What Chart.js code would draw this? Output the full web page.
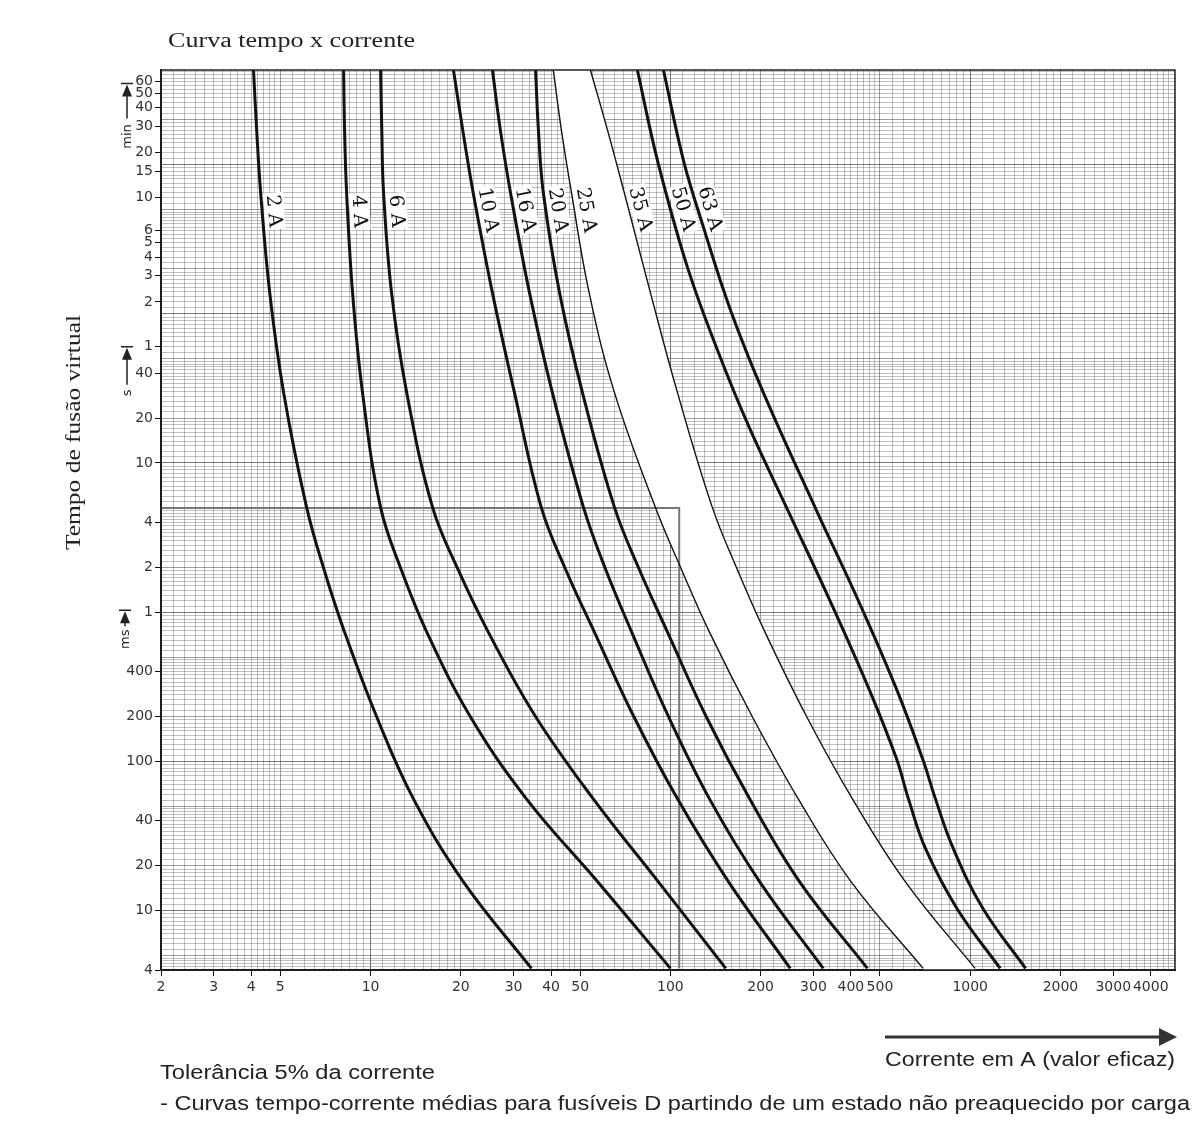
<!DOCTYPE html>
<html lang="pt-BR">
<head>
<meta charset="utf-8">
<title>Curva tempo x corrente</title>
<script src="https://cdn.jsdelivr.net/npm/chart.js@4.4.1/dist/chart.umd.min.js"></script>
<style>
  html, body { margin: 0; padding: 0; background: #fff; }
  #caixa { width: 1198px; height: 1122px; }
</style>
</head>
<body>
<div id="caixa"><canvas id="grafico"></canvas></div>
<script>
// curvas tempo-corrente: [corrente em A, tempo em s]
const curva2A  = [[4.07,4300],[4.17,1700],[4.3,645],[4.61,138],[5.13,29.6],[6.12,5.04],[6.99,1.94],[8.19,0.735],[10.47,0.2],[13.9,0.0561],[20.4,0.0156],[34.4,0.0041]];
const curva4A  = [[8.13,4300],[8.19,1700],[8.32,645],[8.71,138],[9.4,29.6],[10.8,5.04],[12.64,1.94],[15.4,0.735],[21.5,0.2],[33.1,0.0561],[57.2,0.0156],[100,0.0041]];
const curva6A  = [[10.8,4300],[10.9,1700],[11.05,645],[11.75,138],[13.2,29.6],[16.1,5.04],[19.56,1.94],[24.7,0.735],[35.5,0.2],[55.3,0.0561],[91.2,0.0156],[153,0.0041]];
const curva10A = [[18.9,4300],[20.3,1700],[22,645],[25.5,138],[30.2,29.6],[37.1,5.04],[44.7,1.94],[55.8,0.735],[75.5,0.2],[105.6,0.0561],[156.3,0.0156],[251,0.0041]];
const curva16A = [[25.5,4300],[27.1,1700],[29.3,645],[33.9,138],[40.4,29.6],[51.3,5.04],[60.8,1.94],[74.3,0.735],[98.5,0.2],[135,0.0561],[198.6,0.0156],[323.6,0.0041]];
const curva20A = [[35.5,4300],[36.3,1700],[37.7,645],[42.7,138],[50.9,29.6],[65.1,5.04],[78.7,1.94],[97.8,0.735],[131.6,0.2],[183.8,0.0561],[269.8,0.0156],[454,0.0041]];
const curva25A = [[40.7,4300],[43.3,1700],[46.8,645],[53.6,138],[65.1,29.6],[89.1,5.04],[108.8,1.94],[135,0.735],[187.5,0.2],[267,0.0561],[401,0.0156],[697,0.0041]];
const curva35A = [[54.1,4300],[61.7,1700],[70.2,645],[85.8,138],[105.6,29.6],[138,5.04],[167,1.94],[206.8,0.735],[284.6,0.2],[404.7,0.0561],[608,0.0156],[1038,0.0041]];
const curva50A = [[77.6,4300],[90.5,1072],[113.9,206],[143.4,57.4],[182.8,17.5],[248.3,4.67],[339,1.22],[459.8,0.305],[567.9,0.104],[622.3,0.0561],[709.6,0.026],[904.1,0.0103],[1259,0.0041]];
const curva63A = [[94.8,4300],[110.5,1072],[128.8,382],[158.5,106.4],[204.2,29.6],[309.1,4.67],[421.7,1.22],[567.9,0.305],[693.8,0.104],[765.7,0.0561],[878.4,0.026],[1104,0.0103],[1530,0.0041]];

const curvas = [curva2A, curva4A, curva6A, curva10A, curva16A, curva20A, curva25A, curva35A, curva50A, curva63A];
const nomesCurvas = ['2 A', '4 A', '6 A', '10 A', '16 A', '20 A', '25 A', '35 A', '50 A', '63 A'];
const curvasFinas = ['25 A', '35 A'];

// linha de exemplo (5 s / ~107 A)
const linhaExemplo = [[2,5],[107,5],[107,0.0041]];

// marcas dos eixos
const ticksCorrente = [2,3,4,5,10,20,30,40,50,100,200,300,400,500,1000,2000,3000,4000];
const ticksTempo = [3600,3000,2400,1800,1200,900,600,360,300,240,180,120,60,40,20,10,4,2,1,0.4,0.2,0.1,0.04,0.02,0.01,0.004];
const rotulosTempo = ['60','50','40','30','20','15','10','6','5','4','3','2','1','40','20','10','4','2','1','400','200','100','40','20','10','4'];

const tempoRotulo = 480; // altura em que os nomes das curvas são escritos

// papel log: subdivisões de cada década
const mantissas = [1,1.1,1.2,1.3,1.4,1.5,1.6,1.7,1.8,1.9,2,2.2,2.4,2.6,2.8,3,3.2,3.4,3.6,3.8,4,4.2,4.4,4.6,4.8,5,5.5,6,6.5,7,7.5,8,8.5,9,9.5];

function igual(a, b) { return Math.abs(a - b) / b < 1e-6; }

function valoresGrade(min, max, extras) {
  const vals = [];
  for (let e = -3; e <= 4; e++) {
    mantissas.forEach(m => {
      const v = +(m * Math.pow(10, e)).toPrecision(6);
      if (v >= min * 0.9999 && v <= max * 1.0001) vals.push(v);
    });
  }
  extras.forEach(v => { if (!vals.some(u => igual(u, v))) vals.push(v); });
  return vals.sort((a, b) => a - b);
}

function mantissa(v) {
  const e = Math.floor(Math.log10(v) + 1e-9);
  return +(v / Math.pow(10, e)).toFixed(3);
}

function corGrade(v) {
  const m = mantissa(v);
  if (m === 1) return 'rgba(40,40,40,0.62)';
  if (m === 2 || m === 5) return 'rgba(60,60,60,0.5)';
  return 'rgba(90,90,90,0.38)';
}

const X_MIN = 2, X_MAX = 4820, Y_MIN = 0.004, Y_MAX = 4300;
const gradeX = valoresGrade(X_MIN, X_MAX, ticksCorrente);
const gradeY = valoresGrade(Y_MIN, Y_MAX, ticksTempo);

function rotuloX(v) {
  const r = ticksCorrente.find(t => igual(v, t));
  return r === undefined ? '' : String(r);
}
function rotuloY(v) {
  const i = ticksTempo.findIndex(t => igual(v, t));
  return i < 0 ? '' : rotulosTempo[i];
}

// texto esticado na horizontal para ocupar a largura do original
function textoAjustado(ctx, texto, x, y, largura, fonte, angulo) {
  ctx.save();
  ctx.font = fonte;
  const w = ctx.measureText(texto).width;
  ctx.translate(x, y);
  if (angulo) ctx.rotate(angulo);
  ctx.scale(largura / w, 1);
  ctx.textAlign = 'left';
  ctx.textBaseline = 'alphabetic';
  ctx.fillText(texto, 0, 0);
  ctx.restore();
}

function marcador(ctx, x, yTopo, haste, texto, yTexto) {
  ctx.save();
  ctx.strokeStyle = '#222';
  ctx.fillStyle = '#222';
  ctx.lineWidth = 1.5;
  ctx.beginPath();
  ctx.moveTo(x - 6, yTopo); ctx.lineTo(x + 6, yTopo);
  ctx.moveTo(x, yTopo + 8); ctx.lineTo(x, yTopo + haste);
  ctx.stroke();
  ctx.beginPath();
  ctx.moveTo(x, yTopo + 1); ctx.lineTo(x - 5, yTopo + 13); ctx.lineTo(x + 5, yTopo + 13);
  ctx.closePath(); ctx.fill();
  ctx.translate(x + 4, yTexto);
  ctx.rotate(-Math.PI / 2);
  ctx.font = '13px "DejaVu Sans"';
  ctx.textAlign = 'center';
  ctx.textBaseline = 'alphabetic';
  ctx.fillText(texto, 0, 0);
  ctx.restore();
}

function caminhoBezier(ctx, pts, inverso) {
  if (!inverso) {
    for (let i = 1; i < pts.length; i++) {
      const a = pts[i - 1], b = pts[i];
      ctx.bezierCurveTo(a.cp2x, a.cp2y, b.cp1x, b.cp1y, b.x, b.y);
    }
  } else {
    for (let i = pts.length - 1; i > 0; i--) {
      const a = pts[i], b = pts[i - 1];
      ctx.bezierCurveTo(a.cp1x, a.cp1y, b.cp2x, b.cp2y, b.x, b.y);
    }
  }
}

const pluginPapel = {
  id: 'papel',
  beforeDatasetsDraw(chart) {
    // faixa branca entre 25 A e 35 A
    const { ctx, chartArea } = chart;
    const m25 = chart.getDatasetMeta(nomesCurvas.indexOf('25 A'));
    const m35 = chart.getDatasetMeta(nomesCurvas.indexOf('35 A'));
    m25.dataset.updateControlPoints(chartArea, 'x');
    m35.dataset.updateControlPoints(chartArea, 'x');
    const a = m25.data, b = m35.data;
    ctx.save();
    ctx.beginPath();
    ctx.rect(chartArea.left, chartArea.top, chartArea.right - chartArea.left, chartArea.bottom - chartArea.top);
    ctx.clip();
    ctx.beginPath();
    ctx.moveTo(a[0].x, a[0].y - 5);
    ctx.lineTo(a[0].x, a[0].y);
    caminhoBezier(ctx, a, false);
    ctx.lineTo(a[a.length - 1].x, a[a.length - 1].y + 5);
    ctx.lineTo(b[b.length - 1].x, b[b.length - 1].y + 5);
    ctx.lineTo(b[b.length - 1].x, b[b.length - 1].y);
    caminhoBezier(ctx, b, true);
    ctx.lineTo(b[0].x, b[0].y - 5);
    ctx.closePath();
    ctx.fillStyle = '#fff';
    ctx.fill();
    ctx.restore();
  },
  afterDatasetsDraw(chart) {
    // nomes das curvas, girados ao longo da curva
    const { ctx } = chart;
    const yAlvo = chart.scales.y.getPixelForValue(tempoRotulo);
    nomesCurvas.forEach((nome, i) => {
      const pts = chart.getDatasetMeta(i).data;
      for (let k = 0; k < pts.length - 1; k++) {
        const p0 = pts[k], p1 = pts[k + 1];
        if (p0.y <= yAlvo && p1.y >= yAlvo) {
          const f = (yAlvo - p0.y) / (p1.y - p0.y);
          const x = p0.x + f * (p1.x - p0.x);
          const ang = Math.atan2(p1.y - p0.y, p1.x - p0.x);
          const cx = x + 12 * Math.sin(ang);
          const cy = yAlvo - 12 * Math.cos(ang);
          ctx.save();
          ctx.translate(cx, cy);
          ctx.rotate(ang);
          ctx.font = '19.5px "DejaVu Serif"';
          const w = ctx.measureText(nome).width;
          ctx.fillStyle = '#fff';
          ctx.fillRect(-w / 2 - 2, -10, w + 4, 20);
          ctx.fillStyle = '#111';
          ctx.textAlign = 'center';
          ctx.textBaseline = 'middle';
          ctx.fillText(nome, 0, 1);
          ctx.restore();
          break;
        }
      }
    });
  },
  afterDraw(chart) {
    const { ctx, chartArea } = chart;
    const y = chart.scales.y;

    // moldura
    ctx.save();
    ctx.strokeStyle = '#222';
    ctx.lineWidth = 1.5;
    ctx.strokeRect(chartArea.left, chartArea.top, chartArea.right - chartArea.left, chartArea.bottom - chartArea.top);
    ctx.restore();

    ctx.save();
    ctx.fillStyle = '#222';
    textoAjustado(ctx, 'Curva tempo x corrente', 168, 47, 247, '20px "Liberation Serif"');
    textoAjustado(ctx, 'Tempo de fusão virtual', 80, 550, 235, '21px "Liberation Serif"', -Math.PI / 2);
    textoAjustado(ctx, 'Corrente em A (valor eficaz)', 885, 1066, 290, '20px "Liberation Sans"');
    textoAjustado(ctx, 'Tolerância 5% da corrente', 160, 1079, 275, '20px "Liberation Sans"');
    textoAjustado(ctx, '- Curvas tempo-corrente médias para fusíveis D partindo de um estado não preaquecido por carga', 160, 1110, 1030, '20px "Liberation Sans"');
    ctx.restore();

    // seta do eixo de corrente
    ctx.save();
    ctx.strokeStyle = '#333';
    ctx.fillStyle = '#333';
    ctx.lineWidth = 3;
    ctx.beginPath(); ctx.moveTo(885, 1037); ctx.lineTo(1162, 1037); ctx.stroke();
    ctx.beginPath(); ctx.moveTo(1177, 1037); ctx.lineTo(1159, 1028); ctx.lineTo(1159, 1046); ctx.closePath(); ctx.fill();
    ctx.restore();

    // unidades do eixo de tempo
    const yMin = y.getPixelForValue(3600), yS = y.getPixelForValue(60), yMs = y.getPixelForValue(1);
    marcador(ctx, 127, yMin + 2, 35, 'min', yMin + 55);
    marcador(ctx, 127, yS, 38, 's', yS + 46);
    marcador(ctx, 125, yMs - 2, 16, 'ms', yMs + 27);
  }
};

const conjuntos = curvas.map((c, i) => ({
  label: nomesCurvas[i],
  data: c.map(([x, y]) => ({ x, y })),
  borderColor: '#111',
  borderWidth: curvasFinas.includes(nomesCurvas[i]) ? 1.4 : 3,
  pointRadius: 0,
  tension: 0.4,
  fill: false
}));
conjuntos.push({
  label: 'exemplo',
  data: linhaExemplo.map(([x, y]) => ({ x, y })),
  borderColor: '#777',
  borderWidth: 2,
  pointRadius: 0,
  tension: 0,
  fill: false,
  order: 1
});

new Chart(document.getElementById('grafico'), {
  type: 'line',
  data: { datasets: conjuntos },
  options: {
    responsive: true,
    maintainAspectRatio: false,
    animation: false,
    events: [],
    layout: { padding: { top: 70, right: 23, bottom: 112, left: 0 } },
    plugins: { legend: { display: false }, tooltip: { enabled: false } },
    scales: {
      x: {
        type: 'logarithmic',
        min: X_MIN,
        max: X_MAX,
        afterBuildTicks: s => { s.ticks = gradeX.map(v => ({ value: v })); },
        afterFit: s => { s.height = 40; },
        ticks: {
          autoSkip: false, maxRotation: 0, minRotation: 0, padding: 3,
          color: '#333', font: { family: 'DejaVu Sans', size: 14 },
          callback: v => rotuloX(v)
        },
        grid: {
          color: c => corGrade(c.tick.value),
          lineWidth: 1,
          tickLength: 6,
          tickColor: c => rotuloX(c.tick.value) ? '#111' : 'rgba(0,0,0,0)'
        },
        border: { color: '#111', width: 2 }
      },
      y: {
        type: 'logarithmic',
        min: Y_MIN,
        max: Y_MAX,
        afterBuildTicks: s => { s.ticks = gradeY.map(v => ({ value: v })); },
        afterFit: s => { s.width = 161; },
        ticks: {
          autoSkip: false, padding: 2,
          color: '#333', font: { family: 'DejaVu Sans', size: 14 },
          callback: v => rotuloY(v)
        },
        grid: {
          color: c => corGrade(c.tick.value),
          lineWidth: 1,
          tickLength: 6,
          tickColor: c => rotuloY(c.tick.value) ? '#111' : 'rgba(0,0,0,0)'
        },
        border: { color: '#111', width: 2 }
      }
    }
  },
  plugins: [pluginPapel]
});
</script>
</body>
</html>
